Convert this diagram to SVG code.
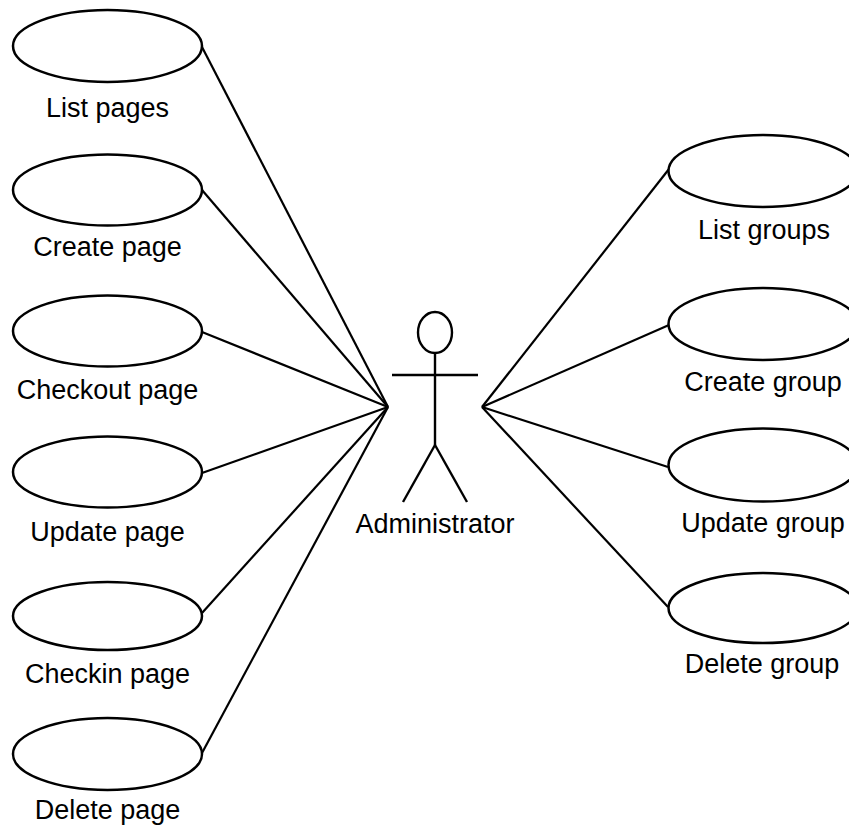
<svg xmlns="http://www.w3.org/2000/svg" width="849" height="827" viewBox="0 0 849 827">
  <style>
    .uc { fill: #fff; stroke: #000; stroke-width: 2.5; }
    .lbl { font-family: "Liberation Sans", Arial, Helvetica, sans-serif; font-size: 27px; fill: #000; text-anchor: middle; }
    .assoc line { stroke: #000; stroke-width: 2.2; }
    .actor { fill: none; stroke: #000; stroke-width: 2.4; }
  </style>
  <rect width="849" height="827" fill="#fff"/>

  <!-- associations: use cases to the Administrator actor -->
  <g id="connectors" class="assoc">
    <line x1="202" y1="47" x2="388" y2="407"/>
    <line x1="202" y1="190" x2="388" y2="407"/>
    <line x1="202" y1="332" x2="388" y2="407"/>
    <line x1="202" y1="473" x2="388" y2="407"/>
    <line x1="202" y1="613" x2="388" y2="407"/>
    <line x1="202" y1="753" x2="388" y2="407"/>
    <line x1="669" y1="169" x2="482" y2="407"/>
    <line x1="669" y1="325" x2="482" y2="407"/>
    <line x1="668" y1="467" x2="482" y2="407"/>
    <line x1="668" y1="607" x2="482" y2="407"/>
  </g>

  <!-- page use cases -->
  <g id="list-pages">
    <ellipse class="uc" cx="107.5" cy="46" rx="94.5" ry="36"/>
    <text class="lbl" x="107.5" y="117">List pages</text>
  </g>
  <g id="create-page">
    <ellipse class="uc" cx="107.5" cy="190" rx="94.5" ry="35.5"/>
    <text class="lbl" x="107.5" y="256">Create page</text>
  </g>
  <g id="checkout-page">
    <ellipse class="uc" cx="107.5" cy="331" rx="94.5" ry="35.5"/>
    <text class="lbl" x="107.5" y="399">Checkout page</text>
  </g>
  <g id="update-page">
    <ellipse class="uc" cx="107.5" cy="472" rx="94.5" ry="35.5"/>
    <text class="lbl" x="107.5" y="541">Update page</text>
  </g>
  <g id="checkin-page">
    <ellipse class="uc" cx="107.5" cy="616" rx="94.5" ry="34"/>
    <text class="lbl" x="107.5" y="683">Checkin page</text>
  </g>
  <g id="delete-page">
    <ellipse class="uc" cx="107.5" cy="754" rx="94.5" ry="36"/>
    <text class="lbl" x="107.5" y="819">Delete page</text>
  </g>

  <!-- actor -->
  <g id="administrator">
    <ellipse class="actor" cx="435" cy="332.5" rx="17" ry="20.5"/>
    <line class="actor" x1="435" y1="353" x2="435" y2="445"/>
    <line class="actor" x1="392" y1="375" x2="478" y2="375"/>
    <line class="actor" x1="435" y1="445" x2="403" y2="502"/>
    <line class="actor" x1="435" y1="445" x2="467" y2="502"/>
    <text class="lbl" x="435" y="533">Administrator</text>
  </g>

  <!-- group use cases -->
  <g id="list-groups">
    <ellipse class="uc" cx="763" cy="171" rx="94.5" ry="36"/>
    <text class="lbl" x="764" y="239">List groups</text>
  </g>
  <g id="create-group">
    <ellipse class="uc" cx="763" cy="324" rx="94.5" ry="36"/>
    <text class="lbl" x="763" y="391">Create group</text>
  </g>
  <g id="update-group">
    <ellipse class="uc" cx="763" cy="465" rx="94.5" ry="36.5"/>
    <text class="lbl" x="763" y="532">Update group</text>
  </g>
  <g id="delete-group">
    <ellipse class="uc" cx="763" cy="608" rx="94.5" ry="35"/>
    <text class="lbl" x="762" y="673">Delete group</text>
  </g>
</svg>
